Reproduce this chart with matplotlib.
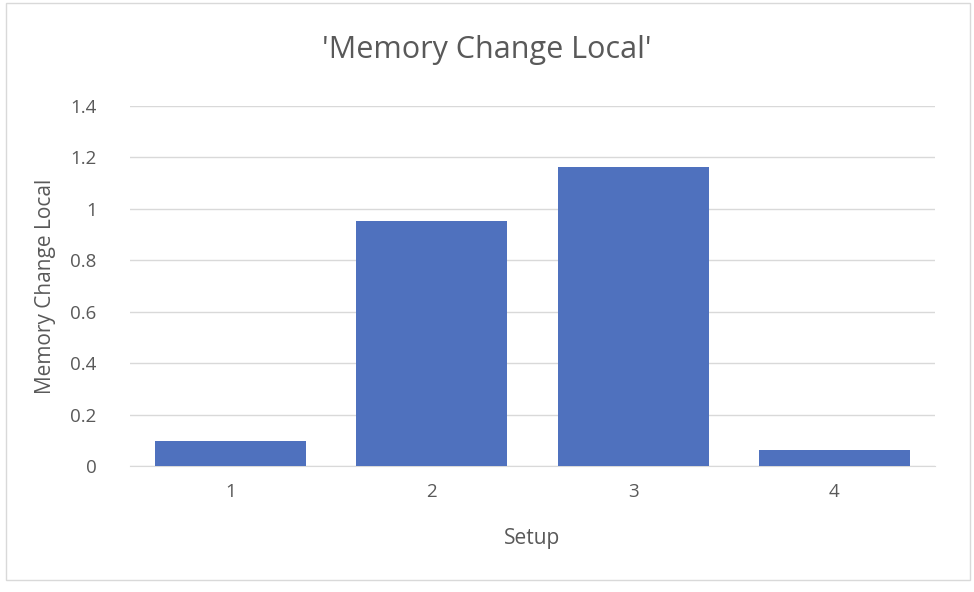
import matplotlib.pyplot as plt
from matplotlib.patches import Rectangle

setups = ['1', '2', '3', '4']
memory_change = [0.097, 0.952, 1.162, 0.062]

grey = '#595959'
plt.rcParams['font.family'] = ['Open Sans', 'DejaVu Sans']

fig = plt.figure(figsize=(9.74, 5.92), dpi=100)
ax = fig.add_axes([0.1335, 0.2128, 0.8265, 0.6082])

x = range(len(setups))
ax.bar(x, memory_change, width=0.75, color='#4F71BE', zorder=3)
ax.set_xlim(-0.5, 3.5)
ax.set_ylim(0, 1.4)
ax.set_yticks([0, 0.2, 0.4, 0.6, 0.8, 1.0, 1.2, 1.4])
ax.set_yticklabels(['0', '0.2', '0.4', '0.6', '0.8', '1', '1.2', '1.4'])
ax.set_xticks(list(x))
ax.set_xticklabels(setups)
ax.grid(axis='y', color='#d9d9d9', lw=1, zorder=0)
for s in ['top', 'right', 'left']:
    ax.spines[s].set_visible(False)
ax.spines['bottom'].set_color('#d9d9d9')
ax.tick_params(length=0, labelsize=13.5, colors=grey, pad=12)
ax.tick_params(axis='y', pad=24)
ax.set_xlabel('Setup', fontsize=15, color=grey, labelpad=20)
ax.set_ylabel('Memory Change Local', fontsize=15, color=grey, labelpad=10)
fig.text(0.5, 0.915, "'Memory Change Local'", ha='center', va='center',
         fontsize=22, color=grey)

fig.patches.append(Rectangle((0.006, 0.02), 0.99, 0.975, transform=fig.transFigure,
                             fill=False, edgecolor='#d9d9d9', lw=1))
fig.savefig('out.png', dpi=100)
